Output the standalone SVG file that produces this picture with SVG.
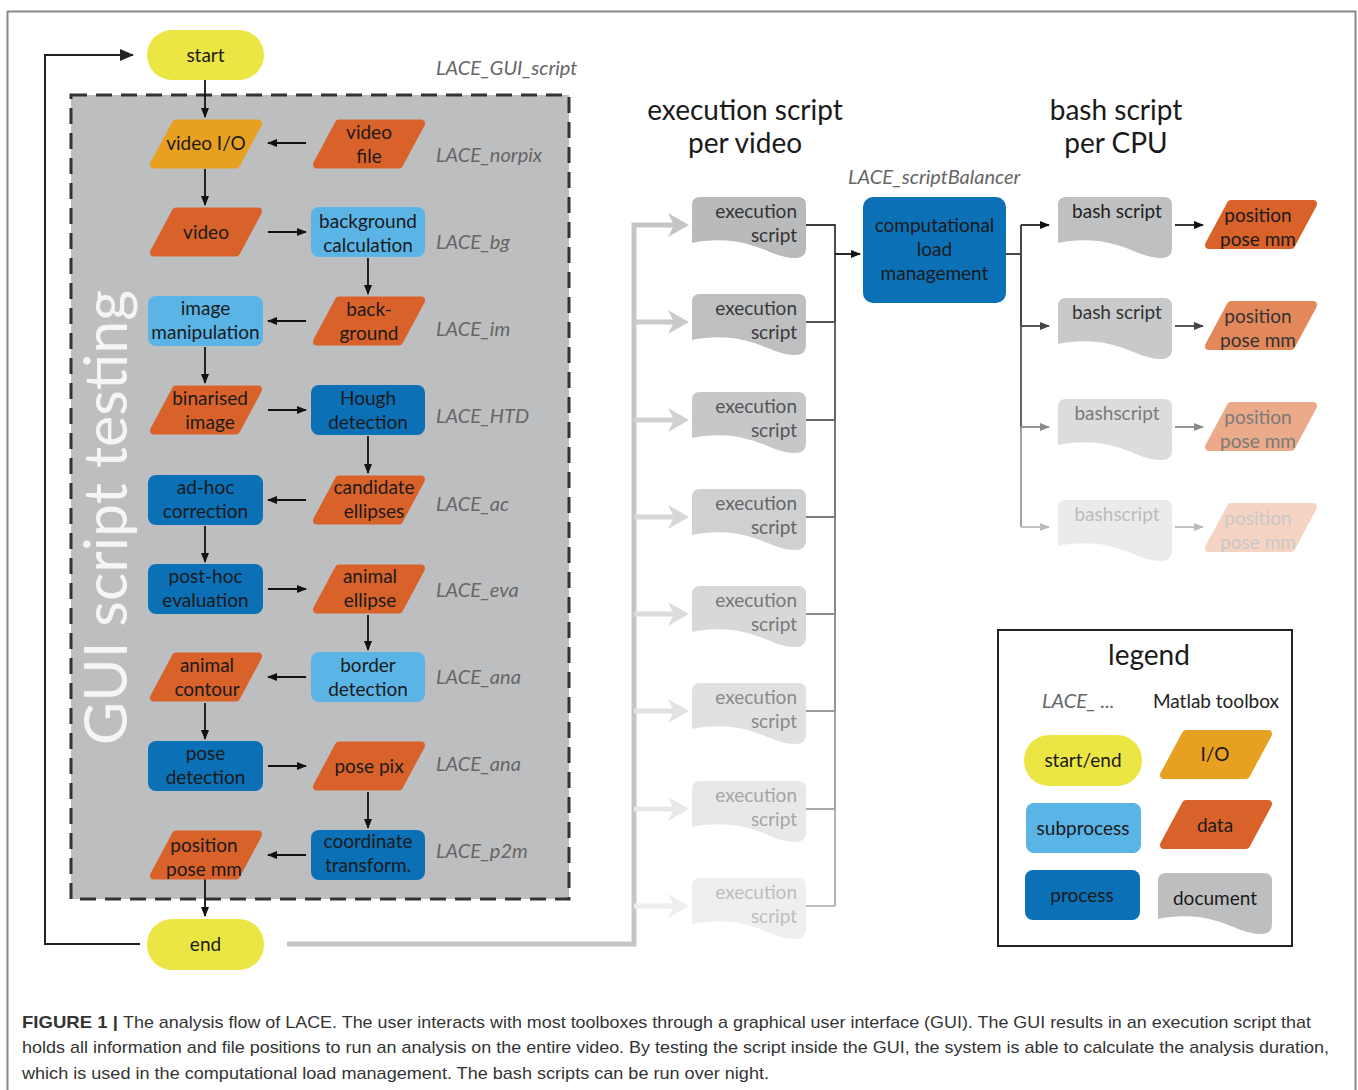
<svg xmlns="http://www.w3.org/2000/svg" xmlns:xlink="http://www.w3.org/1999/xlink" width="1358" height="1090" viewBox="0 0 1358 1090">
<style>
.t{font-family:Lato,"Open Sans","Liberation Sans",sans-serif;font-size:19px;fill:#1a1a1a;text-anchor:middle}
.lab{font-family:Lato,"Open Sans","Liberation Sans",sans-serif;font-size:20px;font-style:italic;fill:#666}
.hd{font-family:Lato,"Open Sans","Liberation Sans",sans-serif;font-size:28px;fill:#1a1a1a;text-anchor:middle}
.cap{font-family:"Liberation Sans",Arial,sans-serif;font-size:17px;fill:#333}
.io{fill:#e8a020;stroke:#e8a020}
.data{fill:#d9622b;stroke:#d9622b}
.sub{fill:#5bb4e6}
.proc{fill:#0b70b5}
.se{fill:#ece644}
.ln{stroke:#111;stroke-width:1.8;fill:none;marker-end:url(#ah)}
</style>
<defs>
<marker id="ah" markerWidth="10" markerHeight="8" refX="9" refY="4" orient="auto" markerUnits="userSpaceOnUse"><path d="M0,0 L10,4 L0,8 Z" fill="#111"/></marker>
<marker id="ah2" markerWidth="10" markerHeight="8" refX="9" refY="4" orient="auto" markerUnits="userSpaceOnUse"><path d="M0,0 L10,4 L0,8 Z" fill="#444"/></marker>
<marker id="ah3" markerWidth="10" markerHeight="8" refX="9" refY="4" orient="auto" markerUnits="userSpaceOnUse"><path d="M0,0 L10,4 L0,8 Z" fill="#8a8a8a"/></marker>
<marker id="ah4" markerWidth="10" markerHeight="8" refX="9" refY="4" orient="auto" markerUnits="userSpaceOnUse"><path d="M0,0 L10,4 L0,8 Z" fill="#bbb"/></marker>
<marker id="ahL" markerWidth="14" markerHeight="12" refX="13" refY="6" orient="auto" markerUnits="userSpaceOnUse"><path d="M0,0 L14,6 L0,12 Z" fill="#222"/></marker>
<path id="para" d="M26,4 H108 L86,45 H4 Z" stroke-width="8" stroke-linejoin="round"/>
<path id="doc" d="M0,8 Q0,0 8,0 H106 Q114,0 114,8 V51 Q114,61 103,61 C88,61 78,54 62,49 C42,42 18,42 0,46 Z"/>
</defs>

<rect x="7.5" y="11.5" width="1348" height="1110" fill="#fff" stroke="#888" stroke-width="2"/>

<!-- GUI box -->
<g id="gui-box">
<rect x="71" y="95" width="498" height="804" fill="#bdbec0" stroke="#333" stroke-width="3" stroke-dasharray="16,9"/>
<text transform="translate(127,745) rotate(-90)" font-family="Lato,'Open Sans',sans-serif" font-size="60" fill="#f5f5f5" textLength="455" lengthAdjust="spacingAndGlyphs">GUI script testing</text>
<text class="lab" x="436" y="75">LACE_GUI_script</text>
</g>

<!-- connectors -->
<g id="connectors">
<path d="M140,944 H45 V55 H133" stroke="#222" stroke-width="2" fill="none" marker-end="url(#ahL)"/>
<line class="ln" x1="205" y1="80" x2="205" y2="117"/>
<line class="ln" x1="306" y1="143" x2="268" y2="143"/>
<line class="ln" x1="205" y1="169" x2="205" y2="205"/>
<line class="ln" x1="268" y1="232" x2="306" y2="232"/>
<line class="ln" x1="368" y1="258" x2="368" y2="294"/>
<line class="ln" x1="306" y1="321" x2="268" y2="321"/>
<line class="ln" x1="205" y1="347" x2="205" y2="383"/>
<line class="ln" x1="268" y1="410" x2="306" y2="410"/>
<line class="ln" x1="368" y1="436" x2="368" y2="473"/>
<line class="ln" x1="306" y1="500" x2="268" y2="500"/>
<line class="ln" x1="205" y1="526" x2="205" y2="562"/>
<line class="ln" x1="268" y1="589" x2="306" y2="589"/>
<line class="ln" x1="368" y1="615" x2="368" y2="650"/>
<line class="ln" x1="306" y1="677" x2="268" y2="677"/>
<line class="ln" x1="205" y1="703" x2="205" y2="739"/>
<line class="ln" x1="268" y1="766" x2="306" y2="766"/>
<line class="ln" x1="368" y1="792" x2="368" y2="828"/>
<line class="ln" x1="306" y1="855" x2="268" y2="855"/>
<line class="ln" x1="205" y1="866" x2="205" y2="916"/>

<!-- thick gray to execution scripts -->
<path d="M287,944 H634 V225 H676" stroke="#c4c5c7" stroke-width="5" fill="none"/>
<g stroke-width="5">
<line x1="634" y1="322" x2="676" y2="322" stroke="#c9cacc"/>
<line x1="634" y1="420" x2="676" y2="420" stroke="#d0d1d2"/>
<line x1="634" y1="517" x2="676" y2="517" stroke="#d6d7d8"/>
<line x1="634" y1="614" x2="676" y2="614" stroke="#dcdcdd"/>
<line x1="634" y1="711" x2="676" y2="711" stroke="#e2e2e2"/>
<line x1="634" y1="809" x2="676" y2="809" stroke="#e8e8e8"/>
<line x1="634" y1="906" x2="676" y2="906" stroke="#eeeeee"/>
</g>
<path d="M668,213 L689,225 L668,237 L674,225 Z" fill="#c4c5c7"/>
<path d="M668,310 L689,322 L668,334 L674,322 Z" fill="#c9cacc"/>
<path d="M668,408 L689,420 L668,432 L674,420 Z" fill="#d0d1d2"/>
<path d="M668,505 L689,517 L668,529 L674,517 Z" fill="#d6d7d8"/>
<path d="M668,602 L689,614 L668,626 L674,614 Z" fill="#dcdcdd"/>
<path d="M668,699 L689,711 L668,723 L674,711 Z" fill="#e2e2e2"/>
<path d="M668,797 L689,809 L668,821 L674,809 Z" fill="#e8e8e8"/>
<path d="M668,894 L689,906 L668,918 L674,906 Z" fill="#eeeeee"/>

<!-- execution scripts to balancer -->
<g fill="none" stroke-width="1.8">
<path d="M806,225 H835 V322" stroke="#3a3a3a"/>
<path d="M806,322 H835 V420" stroke="#555"/>
<path d="M806,420 H835 V517" stroke="#6a6a6a"/>
<path d="M806,517 H835 V614" stroke="#7a7a7a"/>
<path d="M806,614 H835 V711" stroke="#8a8a8a"/>
<path d="M806,711 H835 V809" stroke="#9a9a9a"/>
<path d="M806,809 H835 V906" stroke="#aaa"/>
<path d="M806,906 H835" stroke="#b5b5b5"/>
</g>
<line class="ln" x1="835" y1="254" x2="860" y2="254"/>

<!-- balancer to bash scripts -->
<path d="M1006,254 H1021" stroke="#333" stroke-width="1.8"/>
<path d="M1021,225 V326" stroke="#333" stroke-width="1.8"/>
<path d="M1021,326 V427" stroke="#555" stroke-width="1.8"/>
<path d="M1021,427 V527" stroke="#999" stroke-width="1.8"/>
<line x1="1021" y1="225" x2="1049" y2="225" stroke="#222" stroke-width="1.8" marker-end="url(#ah)"/>
<line x1="1021" y1="326" x2="1049" y2="326" stroke="#444" stroke-width="1.8" marker-end="url(#ah2)"/>
<line x1="1021" y1="427" x2="1049" y2="427" stroke="#8a8a8a" stroke-width="1.8" marker-end="url(#ah3)"/>
<line x1="1021" y1="527" x2="1049" y2="527" stroke="#bbb" stroke-width="1.8" marker-end="url(#ah4)"/>
<line x1="1175" y1="225" x2="1203" y2="225" stroke="#222" stroke-width="1.8" marker-end="url(#ah)"/>
<line x1="1175" y1="326" x2="1203" y2="326" stroke="#444" stroke-width="1.8" marker-end="url(#ah2)"/>
<line x1="1175" y1="427" x2="1203" y2="427" stroke="#8a8a8a" stroke-width="1.8" marker-end="url(#ah3)"/>
<line x1="1175" y1="527" x2="1203" y2="527" stroke="#bbb" stroke-width="1.8" marker-end="url(#ah4)"/>
</g>

<!-- GUI flow nodes -->
<g id="n-start"><rect class="se" x="147" y="30" width="117" height="50" rx="25"/><text class="t" x="205.5" y="62">start</text></g>
<g id="n-end"><rect class="se" x="147" y="919" width="117" height="51" rx="25"/><text class="t" x="205.5" y="951">end</text></g>

<g id="n-videoio"><use href="#para" x="150" y="119.5" class="io"/><text class="t" x="206" y="150">video I/O</text></g>
<g id="n-videofile"><use href="#para" x="313" y="119.5" class="data"/><text class="t" x="369" y="139">video</text><text class="t" x="369" y="163">file</text></g>
<g id="n-video"><use href="#para" x="150" y="207.5" class="data"/><text class="t" x="206" y="239">video</text></g>
<g id="n-bgcalc"><rect class="sub" x="311" y="207" width="114" height="50" rx="8"/><text class="t" x="368" y="228">background</text><text class="t" x="368" y="252">calculation</text></g>
<g id="n-imgman"><rect class="sub" x="148" y="296" width="115" height="50" rx="8"/><text class="t" x="205.5" y="315">image</text><text class="t" x="205.5" y="339">manipulation</text></g>
<g id="n-background"><use href="#para" x="313" y="296.5" class="data"/><text class="t" x="369" y="316">back-</text><text class="t" x="369" y="340">ground</text></g>
<g id="n-binarised"><use href="#para" x="150" y="385.5" class="data"/><text class="t" x="210" y="405">binarised</text><text class="t" x="210" y="429">image</text></g>
<g id="n-hough"><rect class="proc" x="311" y="385" width="114" height="50" rx="8"/><text class="t" x="368" y="405">Hough</text><text class="t" x="368" y="429">detection</text></g>
<g id="n-adhoc"><rect class="proc" x="148" y="475" width="115" height="50" rx="8"/><text class="t" x="205.5" y="494">ad-hoc</text><text class="t" x="205.5" y="518">correction</text></g>
<g id="n-candidate"><use href="#para" x="313" y="475.5" class="data"/><text class="t" x="374" y="494">candidate</text><text class="t" x="374" y="518">ellipses</text></g>
<g id="n-posthoc"><rect class="proc" x="148" y="564" width="115" height="50" rx="8"/><text class="t" x="205.5" y="583">post-hoc</text><text class="t" x="205.5" y="607">evaluation</text></g>
<g id="n-animalellipse"><use href="#para" x="313" y="564.5" class="data"/><text class="t" x="370" y="583">animal</text><text class="t" x="370" y="607">ellipse</text></g>
<g id="n-contour"><use href="#para" x="150" y="652.5" class="data"/><text class="t" x="207" y="672">animal</text><text class="t" x="207" y="696">contour</text></g>
<g id="n-border"><rect class="sub" x="311" y="652" width="114" height="50" rx="8"/><text class="t" x="368" y="672">border</text><text class="t" x="368" y="696">detection</text></g>
<g id="n-posedet"><rect class="proc" x="148" y="741" width="115" height="50" rx="8"/><text class="t" x="205.5" y="760">pose</text><text class="t" x="205.5" y="784">detection</text></g>
<g id="n-posepix"><use href="#para" x="313" y="741.5" class="data"/><text class="t" x="369" y="773">pose pix</text></g>
<g id="n-posmm"><use href="#para" x="150" y="830.5" class="data"/><text class="t" x="204" y="852">position</text><text class="t" x="204" y="876">pose mm</text></g>
<g id="n-coord"><rect class="proc" x="311" y="830" width="114" height="50" rx="8"/><text class="t" x="368" y="848">coordinate</text><text class="t" x="368" y="872">transform.</text></g>

<g id="lace-labels">
<text class="lab" x="436" y="162">LACE_norpix</text>
<text class="lab" x="436" y="249">LACE_bg</text>
<text class="lab" x="436" y="336">LACE_im</text>
<text class="lab" x="436" y="423">LACE_HTD</text>
<text class="lab" x="436" y="511">LACE_ac</text>
<text class="lab" x="436" y="597">LACE_eva</text>
<text class="lab" x="436" y="684">LACE_ana</text>
<text class="lab" x="436" y="771">LACE_ana</text>
<text class="lab" x="436" y="858">LACE_p2m</text>
<text class="lab" x="848" y="184">LACE_scriptBalancer</text>
</g>

<g id="headers">
<text class="hd" x="745" y="120">execution script</text>
<text class="hd" x="745" y="153">per video</text>
<text class="hd" x="1116" y="120">bash script</text>
<text class="hd" x="1116" y="153">per CPU</text>
</g>

<!-- execution scripts -->
<g id="exec-1"><use href="#doc" x="692" y="197" fill="#b9babc"/><text class="t" style="text-anchor:end;fill:#333" x="797" y="218">execution</text><text class="t" style="text-anchor:end;fill:#333" x="797" y="242">script</text></g>
<g id="exec-2"><use href="#doc" x="692" y="294" fill="#bebfc1"/><text class="t" style="text-anchor:end;fill:#3a3a3a" x="797" y="315">execution</text><text class="t" style="text-anchor:end;fill:#3a3a3a" x="797" y="339">script</text></g>
<g id="exec-3"><use href="#doc" x="692" y="392" fill="#c6c7c9"/><text class="t" style="text-anchor:end;fill:#555" x="797" y="413">execution</text><text class="t" style="text-anchor:end;fill:#555" x="797" y="437">script</text></g>
<g id="exec-4"><use href="#doc" x="692" y="489" fill="#cfd0d1"/><text class="t" style="text-anchor:end;fill:#666" x="797" y="510">execution</text><text class="t" style="text-anchor:end;fill:#666" x="797" y="534">script</text></g>
<g id="exec-5"><use href="#doc" x="692" y="586" fill="#d8d8d9"/><text class="t" style="text-anchor:end;fill:#777" x="797" y="607">execution</text><text class="t" style="text-anchor:end;fill:#777" x="797" y="631">script</text></g>
<g id="exec-6"><use href="#doc" x="692" y="683" fill="#e0e0e1"/><text class="t" style="text-anchor:end;fill:#8a8a8a" x="797" y="704">execution</text><text class="t" style="text-anchor:end;fill:#8a8a8a" x="797" y="728">script</text></g>
<g id="exec-7"><use href="#doc" x="692" y="781" fill="#e8e8e8"/><text class="t" style="text-anchor:end;fill:#a5a5a5" x="797" y="802">execution</text><text class="t" style="text-anchor:end;fill:#a5a5a5" x="797" y="826">script</text></g>
<g id="exec-8"><use href="#doc" x="692" y="878" fill="#efefef"/><text class="t" style="text-anchor:end;fill:#bdbdbd" x="797" y="899">execution</text><text class="t" style="text-anchor:end;fill:#bdbdbd" x="797" y="923">script</text></g>

<g id="n-balancer"><rect class="proc" x="863" y="197" width="143" height="106" rx="10"/><text class="t" x="934.5" y="232">computational</text><text class="t" x="934.5" y="256">load</text><text class="t" x="934.5" y="280">management</text></g>

<!-- bash scripts -->
<g id="bash-1"><use href="#doc" x="1058" y="197" fill="#bfc0c2"/><text class="t" style="fill:#222" x="1117" y="218">bash script</text></g>
<g id="bash-2"><use href="#doc" x="1058" y="298" fill="#c8c9cb"/><text class="t" style="fill:#333" x="1117" y="319">bash script</text></g>
<g id="bash-3"><use href="#doc" x="1058" y="399" fill="#dcdcdd"/><text class="t" style="fill:#7a7a7a" x="1117" y="420">bashscript</text></g>
<g id="bash-4"><use href="#doc" x="1058" y="500" fill="#ebebeb"/><text class="t" style="fill:#bbb" x="1117" y="521">bashscript</text></g>

<g id="pos-1"><use href="#para" x="1205" y="200" fill="#d9622b" stroke="#d9622b"/><text class="t" style="fill:#1a1a1a" x="1258" y="222">position</text><text class="t" style="fill:#1a1a1a" x="1258" y="246">pose mm</text></g>
<g id="pos-2"><use href="#para" x="1205" y="301" fill="#e3885b" stroke="#e3885b"/><text class="t" style="fill:#333" x="1258" y="323">position</text><text class="t" style="fill:#333" x="1258" y="347">pose mm</text></g>
<g id="pos-3"><use href="#para" x="1205" y="402" fill="#ebaa89" stroke="#ebaa89"/><text class="t" style="fill:#7a7a7a" x="1258" y="424">position</text><text class="t" style="fill:#7a7a7a" x="1258" y="448">pose mm</text></g>
<g id="pos-4"><use href="#para" x="1205" y="503" fill="#f6d4c3" stroke="#f6d4c3"/><text class="t" style="fill:#c8c8c8" x="1258" y="525">position</text><text class="t" style="fill:#c8c8c8" x="1258" y="549">pose mm</text></g>

<!-- legend -->
<g id="legend">
<rect x="998" y="630" width="294" height="316" fill="#fff" stroke="#222" stroke-width="2"/>
<text class="hd" x="1149" y="665">legend</text>
<text class="lab" x="1042" y="708">LACE_ ...</text>
<text class="t" x="1216" y="708" style="fill:#222">Matlab toolbox</text>
<rect class="se" x="1024" y="735" width="118" height="51" rx="25"/><text class="t" x="1083" y="767">start/end</text>
<use href="#para" x="1160" y="730" class="io"/><text class="t" x="1215" y="761">I/O</text>
<rect class="sub" x="1026" y="803" width="115" height="50" rx="8"/><text class="t" x="1083" y="835">subprocess</text>
<use href="#para" x="1160" y="800" class="data"/><text class="t" x="1215" y="832">data</text>
<rect class="proc" x="1025" y="870" width="115" height="50" rx="8"/><text class="t" x="1082" y="902">process</text>
<use href="#doc" x="1158" y="873" fill="#bdbec0"/><text class="t" x="1215" y="905">document</text>
</g>

<!-- caption -->
<g id="caption">
<text class="cap" x="22" y="1028" font-weight="bold" fill="#222" textLength="96" lengthAdjust="spacingAndGlyphs">FIGURE 1 |</text>
<text class="cap" x="123" y="1028" textLength="1188" lengthAdjust="spacingAndGlyphs">The analysis flow of LACE. The user interacts with most toolboxes through a graphical user interface (GUI). The GUI results in an execution script that</text>
<text class="cap" x="22" y="1053" textLength="1307" lengthAdjust="spacingAndGlyphs">holds all information and file positions to run an analysis on the entire video. By testing the script inside the GUI, the system is able to calculate the analysis duration,</text>
<text class="cap" x="22" y="1079" textLength="747" lengthAdjust="spacingAndGlyphs">which is used in the computational load management. The bash scripts can be run over night.</text>
</g>
</svg>
